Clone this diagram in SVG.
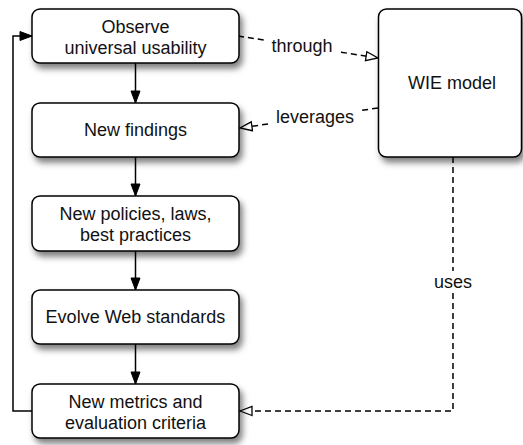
<svg xmlns="http://www.w3.org/2000/svg" width="523" height="445" viewBox="0 0 523 445">
<style>
.box{fill:#fff;stroke:#000;stroke-width:1.5;filter:url(#sh)}
.t{font-family:"Liberation Sans",Arial,sans-serif;font-size:18px;fill:#111;text-anchor:middle}
.solid{fill:none;stroke:#000;stroke-width:1.5}
.dash{fill:none;stroke:#000;stroke-width:1.5;stroke-dasharray:6 4}
</style>
<defs>
<filter id="sh" x="-10%" y="-10%" width="130%" height="140%">
<feDropShadow dx="3" dy="5" stdDeviation="3" flood-color="#000" flood-opacity="0.5"/>
</filter>
<marker id="fa" markerUnits="userSpaceOnUse" markerWidth="14" markerHeight="12" refX="13" refY="6" orient="auto">
<path d="M1,1.5 L13,6 L1,10.5 z" fill="#000" stroke="#000" stroke-width="1"/>
</marker>
<marker id="oa" markerUnits="userSpaceOnUse" markerWidth="14" markerHeight="12" refX="13" refY="6" orient="auto">
<path d="M1,1.5 L13,6 L1,10.5 z" fill="#fff" stroke="#000" stroke-width="1.3"/>
</marker>
</defs>

<g id="connectors">
<path class="solid" d="M135.5,63 V103" marker-end="url(#fa)"/>
<path class="solid" d="M135.5,157 V196" marker-end="url(#fa)"/>
<path class="solid" d="M135.5,251 V290" marker-end="url(#fa)"/>
<path class="solid" d="M135.5,344 V384" marker-end="url(#fa)"/>
<path class="solid" d="M32,411 H13 V36 H32" marker-end="url(#fa)"/>
<path class="dash" d="M238,36 L264,40.1"/>
<path class="dash" d="M341,52.2 L378,58" marker-end="url(#oa)"/>
<text class="t" x="302" y="52">through</text>
<path class="dash" d="M378,108 L362,110.3"/>
<path class="dash" d="M268,124 L240,128" marker-end="url(#oa)"/>
<text class="t" x="315" y="123">leverages</text>
<path class="dash" d="M453,157 V271"/>
<path class="dash" d="M453,293 V411 H240" marker-end="url(#oa)"/>
<text class="t" x="453" y="288">uses</text>
</g>

<g id="wie">
<rect class="box" x="378.5" y="9" width="143" height="148" rx="8"/>
<text class="t" x="452" y="89">WIE model</text>
</g>
<g id="observe">
<rect class="box" x="32" y="9" width="207" height="54" rx="8"/>
<text class="t" x="135.5" y="33">Observe</text>
<text class="t" x="135.5" y="54">universal usability</text>
</g>
<g id="findings">
<rect class="box" x="32" y="103" width="207" height="54" rx="8"/>
<text class="t" x="135.5" y="136">New findings</text>
</g>
<g id="policies">
<rect class="box" x="32" y="196" width="207" height="55" rx="8"/>
<text class="t" x="135.5" y="220">New policies, laws,</text>
<text class="t" x="135.5" y="241">best practices</text>
</g>
<g id="standards">
<rect class="box" x="32" y="290" width="207" height="54" rx="8"/>
<text class="t" x="135.5" y="323">Evolve Web standards</text>
</g>
<g id="metrics">
<rect class="box" x="32" y="384" width="207" height="54" rx="8"/>
<text class="t" x="135.5" y="408">New metrics and</text>
<text class="t" x="135.5" y="429">evaluation criteria</text>
</g>
</svg>
